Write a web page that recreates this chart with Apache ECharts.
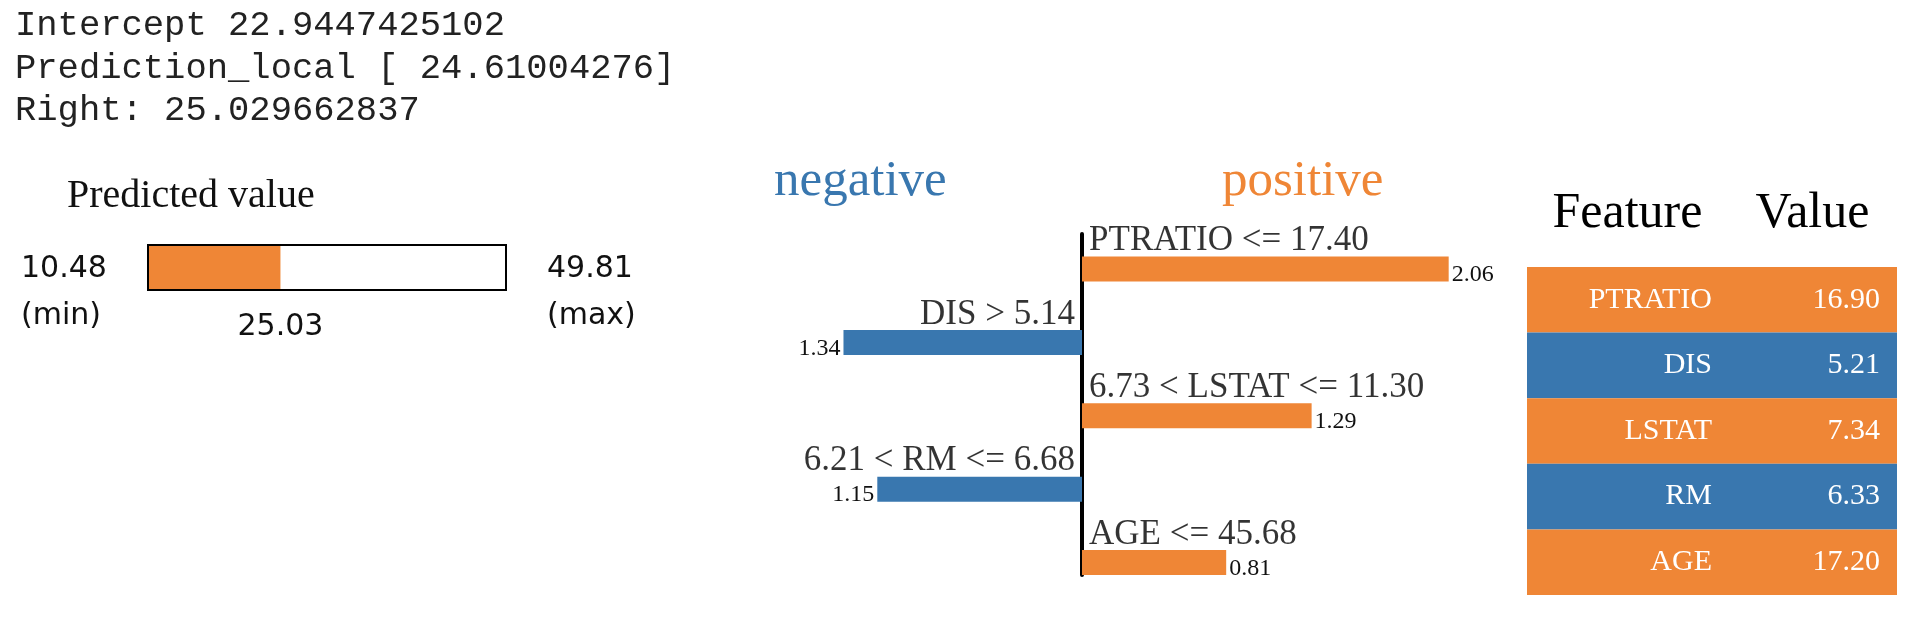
<!DOCTYPE html>
<html>
<head>
<meta charset="utf-8">
<script src="https://cdn.jsdelivr.net/npm/echarts@6/dist/echarts.min.js"></script>
<style>
html, body { margin: 0; padding: 0; background: #ffffff; }
#main { width: 1920px; height: 636px; }
</style>
</head>
<body>
<div id="main"></div>
<script>
// ---------- data ----------
const infoLines = ['Intercept 22.9447425102', 'Prediction_local [ 24.61004276]', 'Right: 25.029662837'];
const predMin = 10.48;
const predMax = 49.81;
const predValue = 25.03;
const conditions = ['PTRATIO <= 17.40', 'DIS > 5.14', '6.73 < LSTAT <= 11.30', '6.21 < RM <= 6.68', 'AGE <= 45.68'];
const weights = [2.06, -1.34, 1.29, -1.15, 0.81];
const features = ['PTRATIO', 'DIS', 'LSTAT', 'RM', 'AGE'];
const featureValues = ['16.90', '5.21', '7.34', '6.33', '17.20'];
const tableHeaders = ['Feature', 'Value'];
const sideTitles = ['negative', 'positive'];

// ---------- style ----------
const ORANGE = '#ef8636';
const BLUE = '#3977af';
const SERIF = '"Liberation Serif", "Times New Roman", serif';
const MONO = '"Liberation Mono", "Courier New", monospace';
const SANS = '"DejaVu Sans", sans-serif';

const chart = echarts.init(document.getElementById('main'), null, { renderer: 'canvas' });

const tableData = [];
features.forEach((f, r) => { tableData.push([0, r]); tableData.push([1, r]); });

const option = {
  animation: false,
  backgroundColor: '#ffffff',
  grid: [
    // 0: predicted value bar
    { left: 148, top: 245, width: 358, height: 45, show: true, borderColor: '#000', borderWidth: 2, backgroundColor: 'transparent', z: 10 },
    // 1: explanation bars
    { left: 637, top: 232.3, width: 890, height: 367 },
    // 2: vertical zero line
    { left: 637, top: 234, width: 890, height: 341 },
    // 3: table
    { left: 1527, top: 267, width: 370, height: 328 }
  ],
  xAxis: [
    { gridIndex: 0, type: 'value', min: predMin, max: predMax, show: false },
    { gridIndex: 1, type: 'value', min: -2.5, max: 2.5, show: false },
    { gridIndex: 2, type: 'value', min: -2.5, max: 2.5, show: false },
    {
      gridIndex: 3, type: 'category', data: tableHeaders, position: 'top',
      axisLine: { show: false }, axisTick: { show: false },
      axisLabel: { interval: 0, hideOverlap: false, color: '#000', fontFamily: SERIF, fontSize: 50, margin: 28, padding: [0, 0, 0, 16] }
    }
  ],
  yAxis: [
    { gridIndex: 0, type: 'category', data: ['pred'], show: false },
    { gridIndex: 1, type: 'category', data: conditions, inverse: true, show: false },
    {
      gridIndex: 2, type: 'value', min: 0, max: 1,
      axisLine: { show: true, onZero: true, lineStyle: { color: '#000', width: 4 } },
      axisTick: { show: false }, axisLabel: { show: false }, splitLine: { show: false }
    },
    { gridIndex: 3, type: 'category', data: features, inverse: true, show: false }
  ],
  graphic: [
    ...infoLines.map((t, i) => ({
      type: 'text', x: 15, y: 26 + i * 42.5,
      style: { text: t, font: '35.5px ' + MONO, fill: '#222', verticalAlign: 'middle' }
    })),
    { type: 'text', x: 67, y: 196, style: { text: 'Predicted value', font: '40px ' + SERIF, fill: '#111', verticalAlign: 'middle' } },
    { type: 'text', x: 21, y: 269, style: { text: predMin.toFixed(2), font: '30px ' + SANS, fill: '#111', verticalAlign: 'middle' } },
    { type: 'text', x: 21, y: 316, style: { text: '(min)', font: '30px ' + SANS, fill: '#111', verticalAlign: 'middle' } },
    { type: 'text', x: 547, y: 269, style: { text: predMax.toFixed(2), font: '30px ' + SANS, fill: '#111', verticalAlign: 'middle' } },
    { type: 'text', x: 547, y: 316, style: { text: '(max)', font: '30px ' + SANS, fill: '#111', verticalAlign: 'middle' } },
    { type: 'text', x: 774, y: 182, style: { text: sideTitles[0], font: '51px ' + SERIF, fill: BLUE, verticalAlign: 'middle' } },
    { type: 'text', x: 1222, y: 182, style: { text: sideTitles[1], font: '51px ' + SERIF, fill: ORANGE, verticalAlign: 'middle' } }
  ],
  series: [
    {
      type: 'bar', xAxisIndex: 0, yAxisIndex: 0, data: [predValue], barWidth: '100%', clip: true,
      itemStyle: { color: ORANGE },
      label: {
        show: true, position: ['100%', '100%'], align: 'center', verticalAlign: 'middle', offset: [0, 37],
        formatter: () => predValue.toFixed(2), fontFamily: SANS, fontSize: 30, color: '#111'
      }
    },
    {
      type: 'bar', xAxisIndex: 1, yAxisIndex: 1, stack: 'w', barWidth: 25,
      data: weights.map(w => (w > 0 ? w : '-')),
      itemStyle: { color: ORANGE },
      label: {
        show: true, position: 'right', distance: 3, offset: [0, 6],
        formatter: p => Math.abs(p.value).toFixed(2), fontFamily: SERIF, fontSize: 24, color: '#111'
      }
    },
    {
      type: 'bar', xAxisIndex: 1, yAxisIndex: 1, stack: 'w', barWidth: 25,
      data: weights.map(w => (w < 0 ? w : '-')),
      itemStyle: { color: BLUE },
      label: {
        show: true, position: 'left', distance: 3, offset: [0, 6],
        formatter: p => Math.abs(p.value).toFixed(2), fontFamily: SERIF, fontSize: 24, color: '#111'
      }
    },
    {
      type: 'scatter', xAxisIndex: 1, yAxisIndex: 1, symbolSize: 0.1, silent: true, z: 5,
      itemStyle: { color: 'transparent' },
      data: conditions.map((c, i) => ({
        value: [0, i],
        label: { position: weights[i] > 0 ? 'right' : 'left', align: weights[i] > 0 ? 'left' : 'right' }
      })),
      label: {
        show: true, distance: 7, offset: [0, -28],
        formatter: p => conditions[p.dataIndex], fontFamily: SERIF, fontSize: 35, color: '#000'
      }
    },
    {
      type: 'custom', xAxisIndex: 3, yAxisIndex: 3, data: tableData, silent: true,
      renderItem: function (params, api) {
        const col = api.value(0), row = api.value(1);
        const c = api.coord([col, row]);
        const s = api.size([1, 1]);
        return {
          type: 'rect',
          shape: { x: c[0] - s[0] / 2, y: c[1] - s[1] / 2, width: s[0], height: s[1] },
          style: { fill: weights[row] > 0 ? ORANGE : BLUE },
          textContent: {
            style: { text: col === 0 ? features[row] : featureValues[row], fill: '#fff', font: '30px ' + SERIF }
          },
          textConfig: { position: 'insideRight', distance: col === 0 ? 0 : 17 }
        };
      }
    }
  ]
};
chart.setOption(option);
</script>
</body>
</html>
